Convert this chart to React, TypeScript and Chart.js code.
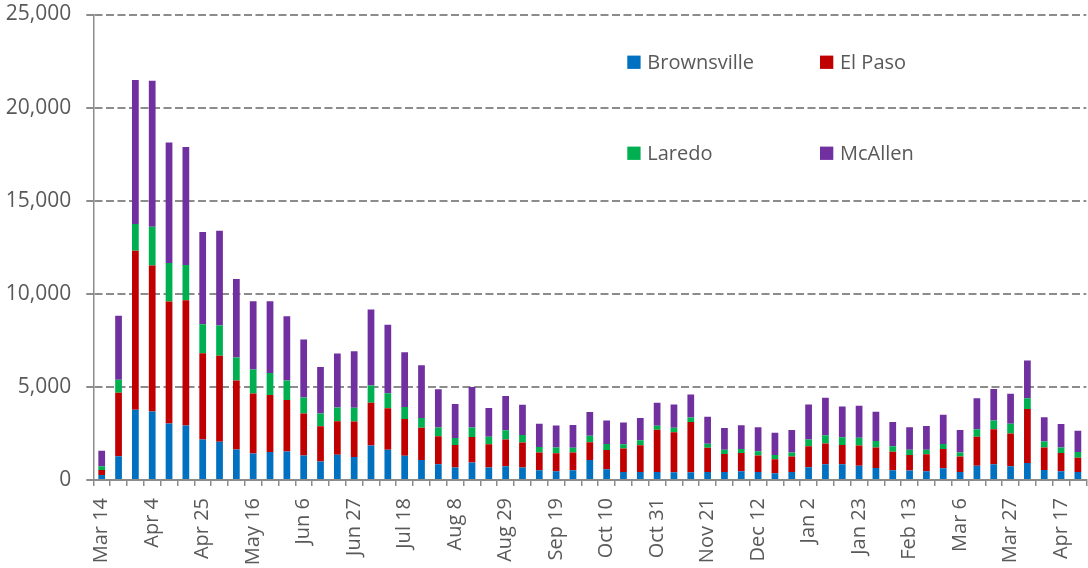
import React, { useEffect, useRef } from 'react';
import { Chart, registerables } from 'chart.js';

Chart.register(...registerables);

const weeks = [
  'Mar 14', 'Mar 21', 'Mar 28', 'Apr 4', 'Apr 11', 'Apr 18', 'Apr 25', 'May 2', 'May 9', 'May 16',
  'May 23', 'May 30', 'Jun 6', 'Jun 13', 'Jun 20', 'Jun 27', 'Jul 4', 'Jul 11', 'Jul 18', 'Jul 25',
  'Aug 1', 'Aug 8', 'Aug 15', 'Aug 22', 'Aug 29', 'Sep 5', 'Sep 12', 'Sep 19', 'Sep 26', 'Oct 3',
  'Oct 10', 'Oct 17', 'Oct 24', 'Oct 31', 'Nov 7', 'Nov 14', 'Nov 21', 'Nov 28', 'Dec 5', 'Dec 12',
  'Dec 19', 'Dec 26', 'Jan 2', 'Jan 9', 'Jan 16', 'Jan 23', 'Jan 30', 'Feb 6', 'Feb 13', 'Feb 20',
  'Feb 27', 'Mar 6', 'Mar 13', 'Mar 20', 'Mar 27', 'Apr 3', 'Apr 10', 'Apr 17', 'Apr 24',
];

const brownsville = [
  270, 1280, 3770, 3680, 3040, 2930, 2170, 2050, 1640, 1420,
  1510, 1530, 1310, 990, 1350, 1240, 1850, 1630, 1300, 1080,
  850, 670, 940, 670, 740, 670, 520, 470, 520, 1070,
  580, 430, 430, 430, 420, 420, 430, 430, 470, 430,
  360, 430, 690, 850, 850, 760, 650, 530, 510, 470,
  630, 430, 760, 850, 740, 910, 540, 470, 430,
];

const elPaso = [
  270, 3410, 8540, 7840, 6540, 6720, 4640, 4620, 3700, 3230,
  3060, 2770, 2260, 1900, 1800, 1900, 2300, 2230, 1970, 1730,
  1500, 1210, 1370, 1250, 1440, 1350, 960, 960, 960, 960,
  1030, 1260, 1440, 2270, 2150, 2690, 1300, 960, 980, 890,
  760, 830, 1120, 1110, 1030, 1090, 1090, 990, 830, 910,
  1030, 830, 1560, 1870, 1760, 2900, 1200, 980, 760,
];

const laredo = [
  200, 700, 1440, 2080, 2080, 1900, 1550, 1630, 1240, 1280,
  1170, 1040, 860, 680, 740, 740, 930, 800, 650, 520,
  470, 380, 510, 400, 490, 400, 290, 310, 250, 340,
  330, 230, 270, 220, 240, 250, 220, 240, 220, 220,
  220, 220, 360, 450, 420, 420, 360, 290, 290, 250,
  270, 220, 400, 470, 520, 580, 330, 290, 310,
];

const mcallen = [
  830, 3430, 7730, 7840, 6470, 6340, 4960, 5090, 4220, 3670,
  3860, 3450, 3110, 2500, 2910, 3040, 4080, 3680, 2940, 2830,
  2060, 1820, 2170, 1550, 1840, 1620, 1250, 1190, 1230, 1280,
  1250, 1170, 1190, 1230, 1240, 1230, 1450, 1160, 1270, 1290,
  1200, 1200, 1890, 2010, 1650, 1720, 1560, 1300, 1200, 1270,
  1580, 1200, 1670, 1700, 1610, 2030, 1300, 1270, 1140,
];

const seriesNames = ['Brownsville', 'El Paso', 'Laredo', 'McAllen'];
const seriesColors = ['#0070C0', '#C00000', '#00B050', '#7030A0'];

const FONT = "'Open Sans', 'DejaVu Sans', sans-serif";
const TEXT = '#595959';
const GRID = '#8c8c8c';

const gridLegend = {
  id: 'gridLegend',
  afterDraw(chart: any) {
    const ctx = chart.ctx;
    const pos = [
      [627.3, 62.3],
      [820, 62.3],
      [627.3, 153.3],
      [820, 153.3],
    ];
    ctx.save();
    ctx.font = `20px ${FONT}`;
    ctx.textBaseline = 'middle';
    ctx.textAlign = 'left';
    chart.data.datasets.forEach((ds: any, i: number) => {
      const [x, y] = pos[i];
      ctx.fillStyle = ds.backgroundColor;
      ctx.fillRect(x, y - 6.7, 13.3, 13.3);
      ctx.fillStyle = TEXT;
      ctx.fillText(ds.label, x + 20, y + 1);
    });
    ctx.restore();
  },
};

export default function App() {
  const ref = useRef<HTMLCanvasElement | null>(null);

  useEffect(() => {
    if (!ref.current) return;
    const series = [brownsville, elPaso, laredo, mcallen];
    const chart = new Chart(ref.current, {
      type: 'bar',
      data: {
        labels: weeks,
        datasets: series.map((d, i) => ({
          label: seriesNames[i],
          data: d,
          backgroundColor: seriesColors[i],
          borderWidth: 0,
          barPercentage: 0.4,
          categoryPercentage: 1.0,
        })),
      },
      options: {
        animation: false,
        responsive: false,
        devicePixelRatio: 1,
        layout: { padding: { top: 14.5, right: 1.7, left: 0, bottom: 0 } },
        plugins: {
          legend: { display: false },
          tooltip: { enabled: false },
        },
        scales: {
          x: {
            stacked: true,
            grid: {
              offset: true,
              drawOnChartArea: false,
              drawTicks: true,
              tickLength: 6,
              color: GRID,
              lineWidth: 1.5,
            },
            border: { display: true, color: GRID, width: 2 },
            ticks: {
              autoSkip: false,
              maxRotation: 90,
              minRotation: 90,
              padding: 12,
              color: TEXT,
              font: { family: FONT, size: 20 },
              callback: (_v: any, i: number) => (i % 3 === 0 ? weeks[i] : ''),
            },
            afterFit: (s: any) => {
              s.height = 88;
              s.paddingLeft = 0;
              s.paddingRight = 0;
            },
          },
          y: {
            stacked: true,
            min: 0,
            max: 25000,
            ticks: {
              stepSize: 5000,
              padding: 15,
              color: TEXT,
              font: { family: FONT, size: 21 },
              callback: (v: any) => Number(v).toLocaleString('en-US'),
            },
            grid: {
              color: (c: any) => (c.tick && c.tick.value === 0 ? 'rgba(0,0,0,0)' : GRID),
              tickColor: GRID,
              lineWidth: 2,
              tickLength: 7,
              tickBorderDash: [8, 3.5],
            },
            border: { display: true, color: GRID, width: 1.5, dash: [8, 3.5] },
            afterFit: (s: any) => {
              s.width = 93.3;
              s.paddingTop = 0;
              s.paddingBottom = 0;
            },
          },
        },
      },
      plugins: [gridLegend],
    } as any);
    return () => chart.destroy();
  }, []);

  return (
    <div
      style={{
        position: 'fixed',
        left: 0,
        top: 0,
        width: 1088,
        height: 568,
        background: '#ffffff',
      }}
    >
      <canvas ref={ref} width={1088} height={568} style={{ display: 'block' }} />
    </div>
  );
}
